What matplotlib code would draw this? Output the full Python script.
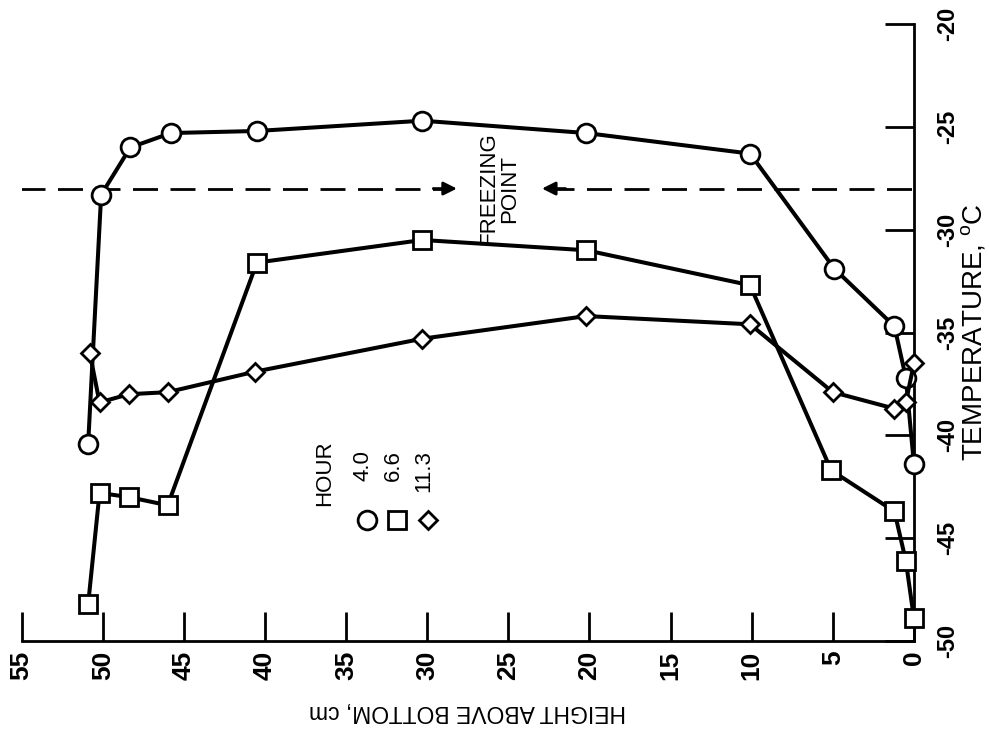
import matplotlib
matplotlib.use("Agg")
import matplotlib.pyplot as plt

plt.rcParams['font.family'] = ['Liberation Sans', 'DejaVu Sans']
plt.rcParams['mathtext.fontset'] = 'custom'
plt.rcParams['mathtext.rm'] = 'Liberation Sans'

# readings, height above bottom (cm) vs temperature (deg C)
hours = ['4.0', '6.6', '11.3']
height_4_0 = [50.9, 50.1, 48.3, 45.8, 40.5, 30.3, 20.2, 10.1, 4.9, 1.2, 0.5, 0.0]
temp_4_0 = [-40.4, -28.3, -26.0, -25.3, -25.2, -24.7, -25.3, -26.3, -31.9, -34.7, -37.2, -41.4]
height_6_6 = [50.9, 50.2, 48.4, 46.0, 40.5, 30.3, 20.2, 10.1, 5.1, 1.2, 0.5, 0.0]
temp_6_6 = [-48.2, -42.8, -43.0, -43.4, -31.6, -30.5, -31.0, -32.7, -41.7, -43.7, -46.1, -48.9]
height_11_3 = [50.8, 50.2, 48.4, 46.0, 40.6, 30.3, 20.2, 10.1, 5.0, 1.2, 0.5, 0.0]
temp_11_3 = [-36.0, -38.4, -38.0, -37.9, -36.9, -35.3, -34.2, -34.6, -37.9, -38.7, -38.4, -36.5]
freezing_point = -28.0
height_ticks = [55, 50, 45, 40, 35, 30, 25, 20, 15, 10, 5, 0]
temp_ticks = [-50, -45, -40, -35, -30, -25, -20]

fig = plt.figure(figsize=(9.89, 7.33), dpi=100)
ax = fig.add_axes([0.0219, 0.1255, 0.9022, 0.8417])

series = [(height_4_0, temp_4_0, 'o', 13.5),
          (height_6_6, temp_6_6, 's', 12.5),
          (height_11_3, temp_11_3, 'D', 9.0)]
for h, t, m, ms in series:
    ax.plot(h, t, color='black', lw=2.9, marker=m, ms=ms, mfc='white',
            mec='black', mew=2.0, clip_on=False, zorder=3)

# freezing point line, broken for the label
ax.plot([55.1, 28.6], [freezing_point, freezing_point], color='black', lw=2,
        dashes=(9, 4.5), zorder=2)
ax.plot([22.5, 0], [freezing_point, freezing_point], color='black', lw=2,
        dashes=(9, 4.5), zorder=2)
ax.annotate('', xy=(28.0, freezing_point), xytext=(29.8, freezing_point),
            arrowprops=dict(arrowstyle='-|>', color='black', lw=2, mutation_scale=20))
ax.annotate('', xy=(23.1, freezing_point), xytext=(21.3, freezing_point),
            arrowprops=dict(arrowstyle='-|>', color='black', lw=2, mutation_scale=20))
ax.text(25.55, freezing_point, 'FREEZING\nPOINT', rotation=90, ha='center', va='center',
        multialignment='center', fontsize=16, linespacing=1.0)

ax.set_xlim(55, 0)
ax.set_ylim(-50, -20)
ax.set_xticks(height_ticks)
ax.set_yticks(temp_ticks)
ax.set_xticklabels([str(v) for v in height_ticks], fontweight='bold')
ax.set_yticklabels([str(v) for v in temp_ticks], fontweight='bold')
ax.yaxis.tick_right()
ax.tick_params(axis='x', direction='in', length=21, width=2, pad=7,
               labelrotation=90, labelsize=19)
ax.tick_params(axis='y', direction='in', length=21, width=2, pad=16,
               labelrotation=90, labelsize=17)
for lab in ax.get_yticklabels():
    lab.set_verticalalignment('center')
for s in ['top', 'left']:
    ax.spines[s].set_visible(False)
for s in ['bottom', 'right']:
    ax.spines[s].set_linewidth(2)

ax.text(0.5, -0.115, 'HEIGHT ABOVE BOTTOM, cm', transform=ax.transAxes,
        rotation=180, ha='center', va='center', fontsize=16.5)
ax.text(1.068, 0.5, r'TEMPERATURE, $^{\mathrm{o}}$C', transform=ax.transAxes,
        rotation=90, ha='center', va='center', fontsize=20)

# legend, laid out sideways like the rest of the figure
ax.text(0.340, 0.272, 'HOUR', transform=ax.transAxes, rotation=90,
        ha='center', va='center', fontsize=16)
leg_x = [0.387, 0.421, 0.455]
for (h, t, m, ms), lx, lab in zip(series, leg_x, hours):
    ax.plot([lx], [0.196], transform=ax.transAxes, ls='none', marker=m, ms=ms,
            mfc='white', mec='black', mew=2.0, clip_on=False)
    ax.text(lx - 0.004, 0.310, lab, transform=ax.transAxes, rotation=90,
            ha='center', va='top', fontsize=16)

fig.savefig('out.png', dpi=100, facecolor='white')
